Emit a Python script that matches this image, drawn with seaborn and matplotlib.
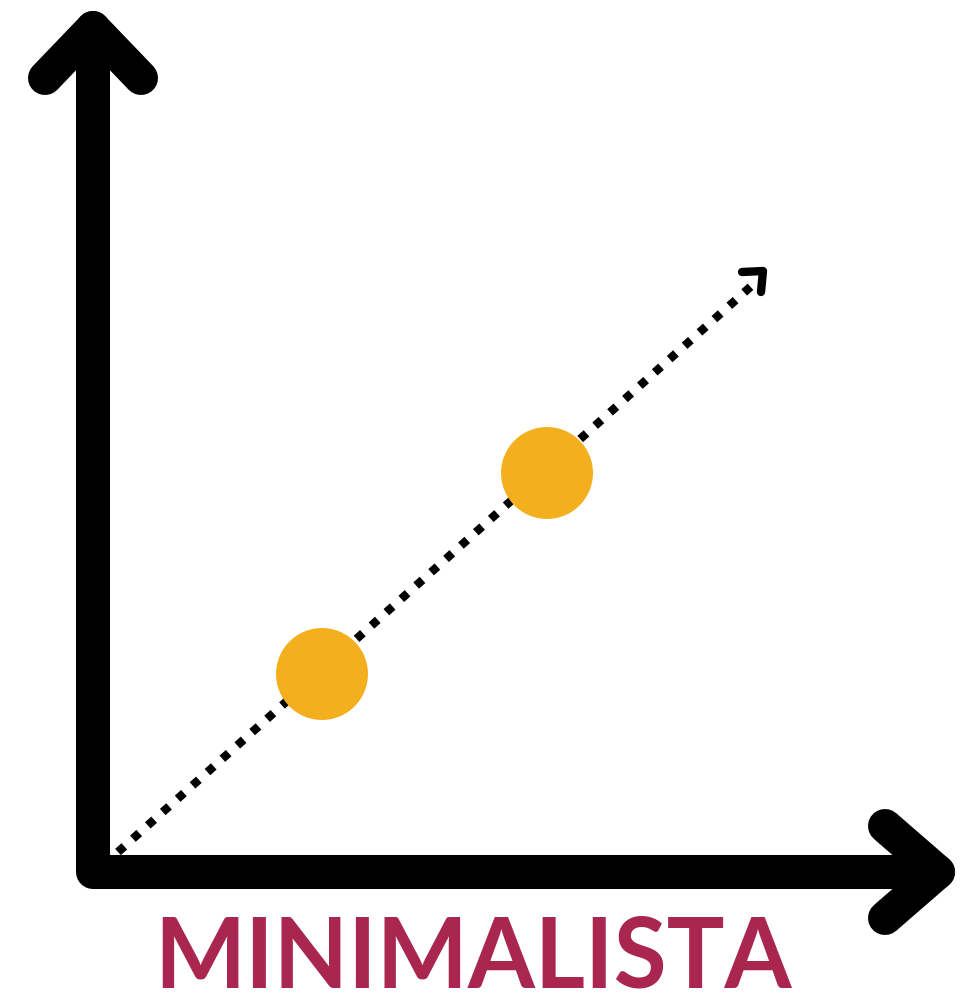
import matplotlib
matplotlib.use("Agg")
import matplotlib.pyplot as plt
import seaborn as sns
import pandas as pd

sns.set_theme(style="white")
plt.rcParams['font.family'] = ['Lato', 'DejaVu Sans']

# Data (pixel-like coordinate space, y grows downward)
axis_x = [93, 93, 938]
axis_y = [28, 872, 872]
up_head_x = [45, 93, 141]
up_head_y = [78, 28, 78]
right_head_x = [885, 938, 885]
right_head_y = [826, 872, 918]
trend_x = [118, 757]
trend_y = [852, 281]
trend_head_x = [742, 763, 761]
trend_head_y = [272, 271, 292]
point_x = [322, 547]
point_y = [674, 473]
title = "MINIMALISTA"

fig = plt.figure(figsize=(9.61, 10.01), dpi=100)
ax = fig.add_axes([0, 0, 1, 1])
ax.set_xlim(0, 961)
ax.set_ylim(1001, 0)
ax.axis("off")

black = "#000000"
ax.plot(axis_x, axis_y, color=black, lw=24.5, solid_capstyle="round",
        solid_joinstyle="round")
ax.plot(up_head_x, up_head_y, color=black, lw=24.5, solid_capstyle="round",
        solid_joinstyle="round")
ax.plot(right_head_x, right_head_y, color=black, lw=24.5, solid_capstyle="round",
        solid_joinstyle="round")

ax.plot(trend_x, trend_y, color=black, lw=6.1, linestyle=(0, (1, 1.36)),
        dash_capstyle="butt")
ax.plot(trend_head_x, trend_head_y, color=black, lw=6, solid_capstyle="round",
        solid_joinstyle="round")

df = pd.DataFrame({"x": point_x, "y": point_y})
sns.scatterplot(data=df, x="x", y="y", s=4383, color="#F4AF1E",
                edgecolor="none", ax=ax, zorder=5, legend=False)

ax.text(473.5, 988, title, color="#A82650", fontsize=69.5, fontweight="bold",
        ha="center", va="baseline")

ax.set_xlabel("")
ax.set_ylabel("")
fig.savefig("out.png", dpi=100)
